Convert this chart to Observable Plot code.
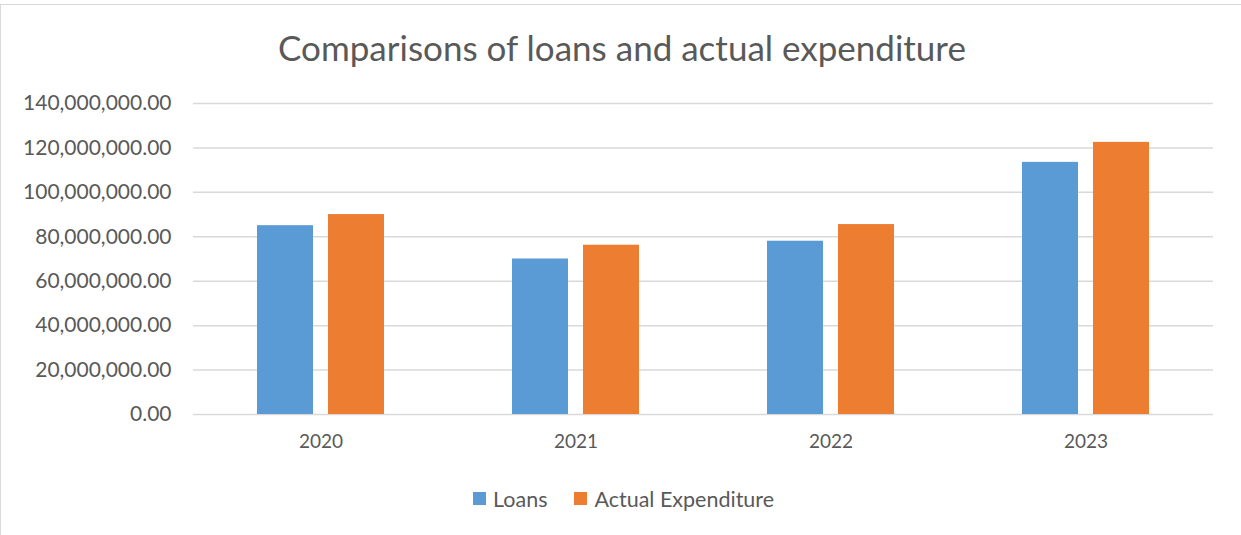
<!DOCTYPE html>
<html>
<head>
<meta charset="utf-8">
<script src="https://cdn.jsdelivr.net/npm/d3@7"></script>
<script src="https://cdn.jsdelivr.net/npm/@observablehq/plot@0.6"></script>
<style>
  html, body { margin: 0; padding: 0; background: #fff; }
  #page { position: relative; width: 1241px; height: 535px; overflow: hidden; font-family: Lato, "Open Sans", sans-serif; color: #595959; }
  #frame { position: absolute; left: 0; top: 4px; width: 1260px; height: 560px; border: 1px solid #d9d9d9; box-sizing: border-box; }
  #title { position: absolute; left: 0; width: 1244px; top: 24px; text-align: center; font-size: 35px; line-height: 46px; color: #595959; }
  #chart { position: absolute; left: 0; top: 80px; }
  #legend { position: absolute; left: 473px; top: 482px; }
  .lg-swatch { margin-right: 27px !important; }
  .lg-swatch > svg { margin-right: 7px !important; }
</style>
</head>
<body>
<div id="page">
  <div id="frame"></div>
  <div id="title">Comparisons of loans and actual expenditure</div>
  <div id="chart"></div>
  <div id="legend"></div>
</div>
<script>
// Yearly figures
const years = ["2020", "2021", "2022", "2023"];
const seriesNames = ["Loans", "Actual Expenditure"];
const seriesColors = ["#5b9bd5", "#ed7d31"];
const loans = [85000000, 70000000, 78000000, 113500000];
const actualExpenditure = [90000000, 76200000, 85500000, 122500000];
const yTicks = [0, 20000000, 40000000, 60000000, 80000000, 100000000, 120000000, 140000000];

// Long-format rows for the grouped bars
const rows = years.flatMap((year, i) => [
  {year, series: seriesNames[0], value: loans[i]},
  {year, series: seriesNames[1], value: actualExpenditure[i]}
]);

const fmt = d3.format(",.2f");

const chart = Plot.plot({
  width: 1241,
  height: 380,
  marginLeft: 192,
  marginRight: 28,
  marginTop: 23,
  marginBottom: 46,
  style: {background: "transparent", color: "#595959", fontFamily: "Lato, 'Open Sans', sans-serif", fontSize: "19px"},
  fx: {domain: years, padding: 0, label: null, axis: "bottom", tickSize: 0, tickPadding: 20},
  x: {domain: seriesNames, paddingInner: 0.2083, paddingOuter: 0.878, axis: null},
  y: {domain: [0, 140000000], label: null, axis: null},
  color: {domain: seriesNames, range: seriesColors},
  marks: [
    Plot.gridY(yTicks, {stroke: "#d9d9d9", strokeOpacity: 1, strokeWidth: 1.5}),
    Plot.axisY(yTicks, {
      tickFormat: fmt, tickSize: 0, tickPadding: 22, label: null,
      fontSize: 21, fill: "#595959", facetAnchor: "left"
    }),
    Plot.barY(rows, {fx: "year", x: "series", y: "value", fill: "series"})
  ]
});
document.getElementById("chart").appendChild(chart);

const legend = chart.legend("color", {
  swatchWidth: 13, swatchHeight: 13, className: "lg",
  style: {fontSize: "21.5px", color: "#595959", fontFamily: "Lato, 'Open Sans', sans-serif"}
});
document.getElementById("legend").appendChild(legend);
</script>
</body>
</html>
